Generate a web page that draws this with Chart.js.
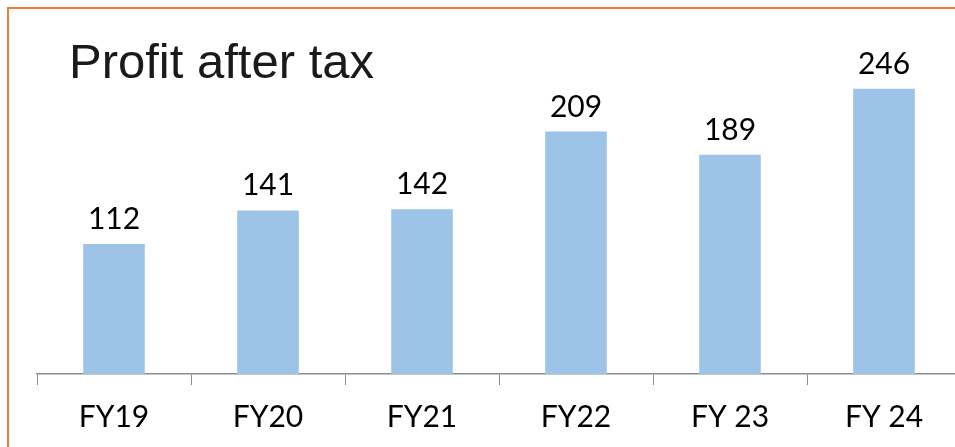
<!DOCTYPE html>
<html>
<head>
<meta charset="utf-8">
<script src="https://cdn.jsdelivr.net/npm/chart.js@4/dist/chart.umd.min.js"></script>
<style>
  html, body { margin: 0; padding: 0; background: #fff; overflow: hidden; width: 955px; height: 447px; }
  #wrap { position: absolute; left: 0; top: 0; width: 966px; height: 459px; }
  #frame { position: absolute; left: 7px; top: 7px; width: 960px; height: 450px;
           border-left: 2px solid #ED7D31; border-top: 2px solid #ED7D31; box-sizing: border-box; pointer-events: none; }
</style>
</head>
<body>
<div id="wrap"><canvas id="c" width="966" height="459"></canvas></div>
<div id="frame"></div>
<script>
const categories = ["FY19", "FY20", "FY21", "FY22", "FY 23", "FY 24"];
const profitAfterTax = [112, 141, 142, 209, 189, 246];
const chartTitle = "Profit after tax";

const labelFont = "Lato, Carlito, Calibri, sans-serif";

const valueLabels = {
  id: 'valueLabels',
  afterDatasetsDraw(chart) {
    const ctx = chart.ctx;
    const meta = chart.getDatasetMeta(0);
    ctx.save();
    ctx.fillStyle = '#000';
    ctx.font = '30px ' + labelFont;
    ctx.textAlign = 'center';
    ctx.textBaseline = 'alphabetic';
    meta.data.forEach((bar, i) => {
      ctx.fillText(String(chart.data.datasets[0].data[i]), bar.x, bar.y - 15);
    });
    ctx.restore();
  }
};

const titlePlugin = {
  id: 'leftTitle',
  afterDraw(chart) {
    const ctx = chart.ctx;
    ctx.save();
    ctx.fillStyle = '#1a1a1a';
    ctx.font = '49px "Liberation Sans", Arial, sans-serif';
    ctx.textAlign = 'left';
    ctx.textBaseline = 'alphabetic';
    ctx.fillText(chartTitle, 69, 78);
    ctx.restore();
  }
};

new Chart(document.getElementById('c'), {
  type: 'bar',
  data: {
    labels: categories,
    datasets: [{
      data: profitAfterTax,
      backgroundColor: '#9DC3E6',
      borderWidth: 0,
      barPercentage: 0.4,
      categoryPercentage: 1.0
    }]
  },
  options: {
    responsive: false,
    animation: false,
    layout: { padding: { left: 37, right: 5, top: 26, bottom: 10 } },
    plugins: { legend: { display: false }, tooltip: { enabled: false }, title: { display: false } },
    scales: {
      y: { display: false, min: 0, max: 300 },
      x: {
        offset: true,
        grid: { display: true, drawOnChartArea: false, drawTicks: true, tickLength: 11, color: '#8c8c8c', offset: true },
        border: { display: true, color: '#8c8c8c', width: 1.5 },
        ticks: { color: '#000', font: { size: 30, family: labelFont }, padding: 14, maxRotation: 0 }
      }
    }
  },
  plugins: [valueLabels, titlePlugin]
});
</script>
</body>
</html>
